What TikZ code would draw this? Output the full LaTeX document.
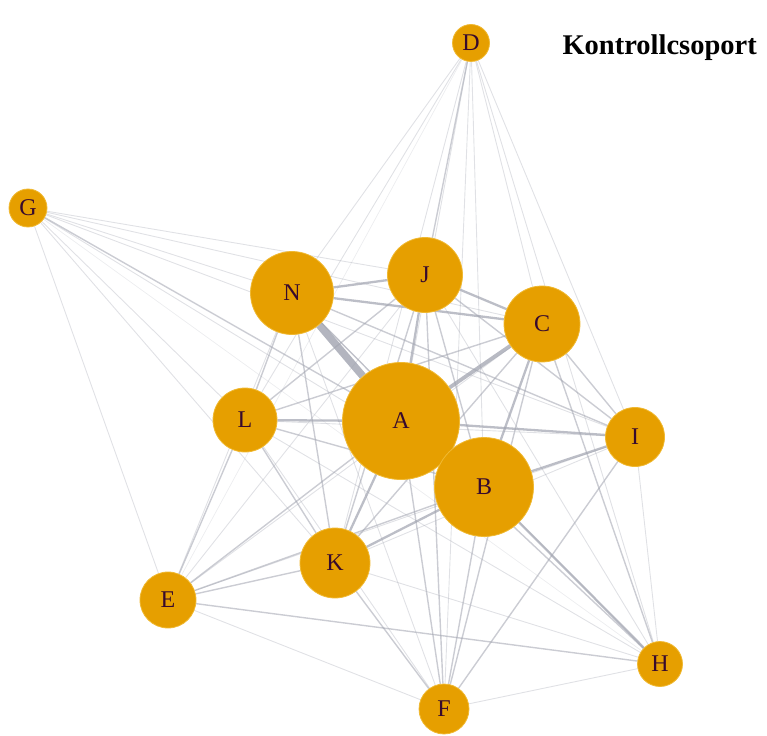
\documentclass[tikz,border=0pt]{standalone}
\usepackage{fontspec}
\setmainfont{Liberation Serif}
\usetikzlibrary{backgrounds}
\definecolor{vorange}{RGB}{230,159,0}
\definecolor{vrim}{RGB}{240,185,50}
\definecolor{vlabel}{RGB}{55,10,45}
\definecolor{vedge}{RGB}{160,163,175}
\begin{document}
\begin{tikzpicture}[x=1pt,y=-1pt,
    vert/.style={circle,fill=vorange,draw=vrim,line width=0.8pt,inner sep=0pt,
                 text=vlabel,font=\fontsize{24}{24}\selectfont},
    edge0/.style={draw=vedge,line width=0.7pt,opacity=0.2},
    edge1/.style={draw=vedge,line width=0.9pt,opacity=0.32},
    edge2/.style={draw=vedge,line width=1.4pt,opacity=0.55},
    edge3/.style={draw=vedge,line width=2.3pt,opacity=0.7},
    edge4/.style={draw=vedge,line width=3.8pt,opacity=0.75},
    edge5/.style={draw=vedge,line width=7.5pt,opacity=0.8}]
  \useasboundingbox (0,0) rectangle (767,735);

  % nodes, sized by weight
  \node [vert,minimum size=37pt]  (D) at (471,43)  {D};
  \node [vert,minimum size=38pt]  (G) at (28,208)  {G};
  \node [vert,minimum size=83pt]  (N) at (292,293) {N};
  \node [vert,minimum size=75pt]  (J) at (425,275) {J};
  \node [vert,minimum size=76pt]  (C) at (542,324) {C};
  \node [vert,minimum size=64pt]  (L) at (245,420) {L};
  \node [vert,minimum size=117pt] (A) at (401,421) {A};
  \node [vert,minimum size=59pt]  (I) at (635,437) {I};
  \node [vert,minimum size=99pt]  (B) at (484,487) {B};
  \node [vert,minimum size=70pt]  (K) at (335,563) {K};
  \node [vert,minimum size=56pt]  (E) at (168,600) {E};
  \node [vert,minimum size=45pt]  (H) at (660,664) {H};
  \node [vert,minimum size=50pt]  (F) at (444,709) {F};

  \node [anchor=base west,font=\fontsize{28.5}{28.5}\selectfont\bfseries] (title) at (559,55) {Kontrollcsoport};

  % connectors
  \begin{pgfonlayer}{background}
    \foreach \from/\to/\w in {A/B/3, A/C/4, A/D/1, A/E/2, A/F/2, A/G/2, A/H/2, A/I/3, A/J/3, A/K/3, A/L/3, A/N/5,
        B/C/3, B/D/1, B/E/2, B/F/2, B/G/1, B/H/3, B/I/3, B/J/2, B/K/3, B/L/2, B/N/2,
        C/D/1, C/E/1, C/F/2, C/G/1, C/H/2, C/I/2, C/J/3, C/K/2, C/L/2, C/N/3,
        D/E/0, D/F/1, D/H/1, D/I/1, D/J/2, D/K/1, D/L/1, D/N/1,
        E/F/1, E/G/1, E/H/2, E/I/1, E/J/1, E/K/2, E/L/2, E/N/1,
        F/H/1, F/I/2, F/J/2, F/K/2, F/L/1, F/N/1,
        G/H/0, G/I/1, G/J/1, G/K/1, G/L/1, G/N/1,
        H/I/1, H/J/1, H/K/1, H/L/1, H/N/1,
        I/J/2, I/K/1, I/L/1, I/N/2,
        J/K/2, J/L/2, J/N/3,
        K/L/2, K/N/2,
        L/N/2}
      \draw [edge\w] (\from) -- (\to);
  \end{pgfonlayer}
\end{tikzpicture}
\end{document}
